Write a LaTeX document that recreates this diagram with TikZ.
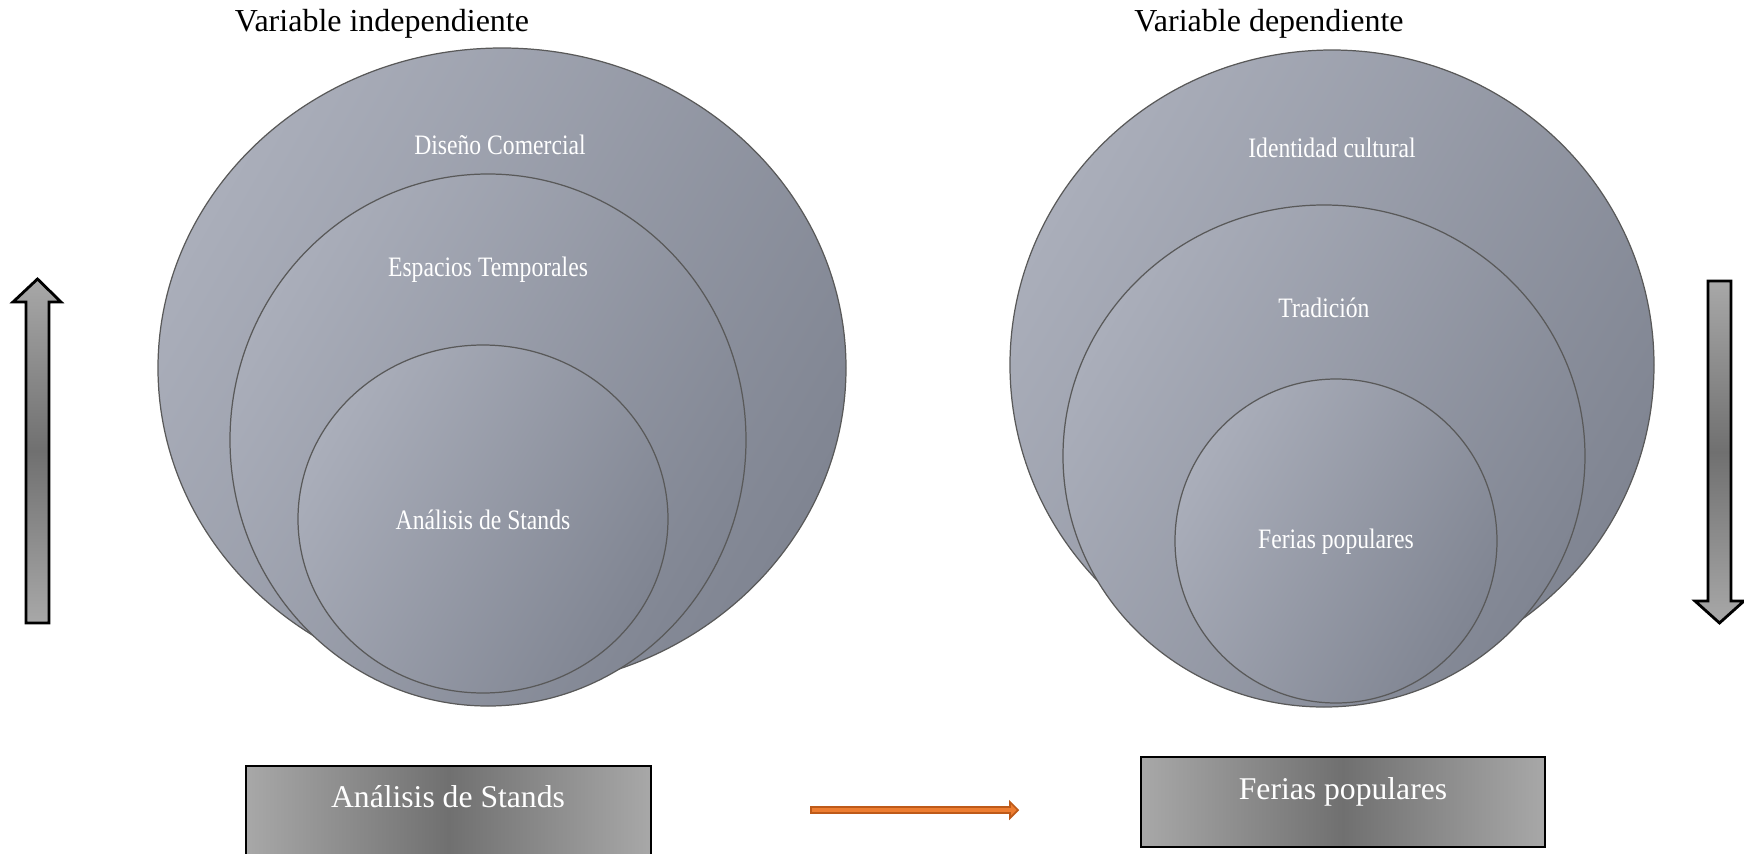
\documentclass[tikz,border=0pt]{standalone}
\usepackage{fontspec}
\setmainfont{Liberation Serif}
\usepackage{graphicx}

\definecolor{circClaro}{RGB}{170,174,186}
\definecolor{circOscuro}{RGB}{128,133,146}
\definecolor{flechaClara}{RGB}{168,168,168}
\definecolor{flechaOscura}{RGB}{112,112,112}
\definecolor{naranja}{RGB}{237,125,49}
\definecolor{naranjaBorde}{RGB}{190,90,25}

\newcommand{\etiq}[1]{\scalebox{0.84}[1]{#1}}

\begin{document}
\begin{tikzpicture}[x=0.01cm, y=-0.01cm,
	circulo/.style={draw=black!65, line width=0.35pt, top color=circClaro, bottom color=circOscuro, shading angle=60},
	etiqueta/.style={text=white, font=\fontsize{8}{9.6}\selectfont},
	titulo/.style={font=\fontsize{9.1}{11}\selectfont},
	caja/.style={draw=black, line width=0.8pt, left color=flechaClara, right color=flechaClara, middle color=flechaOscura},
	flecha/.style={draw=black, line width=0.8pt, top color=flechaClara, bottom color=flechaClara, middle color=flechaOscura}]

	\useasboundingbox (0,0) rectangle (1744,854);
	\clip (0,0) rectangle (1744,854);

	% Titles
	\node[titulo] (indep) at (382,24) {Variable independiente};
	\node[titulo] (dep) at (1269,24) {Variable dependiente};

	% Draw the left circles
	\shadedraw[circulo] (502,368) ellipse [x radius=344, y radius=320];
	\shadedraw[circulo] (488,440) ellipse [x radius=258, y radius=266];
	\shadedraw[circulo] (483,519) ellipse [x radius=185, y radius=174];

	\node[etiqueta] (disenio) at (500,145) {\etiq{Diseño Comercial}};
	\node[etiqueta] (espacios) at (488,270) {\etiq{Espacios Temporales}};
	\node[etiqueta] (analisis) at (483,520) {\etiq{Análisis de Stands}};

	% Draw the right circles
	\shadedraw[circulo] (1332,365) ellipse [x radius=322, y radius=315];
	\shadedraw[circulo] (1324,456) ellipse [x radius=261, y radius=251];
	\shadedraw[circulo] (1336,541) ellipse [x radius=161, y radius=162];

	\node[etiqueta] (identidad) at (1332,148) {\etiq{Identidad cultural}};
	\node[etiqueta] (tradicion) at (1324,308) {\etiq{Tradición}};
	\node[etiqueta] (ferias) at (1336,542) {\etiq{Ferias populares}};

	% Draw the side arrows
	\shadedraw[flecha] (26,623) -- (26,302) -- (13,302) -- (37.5,279) -- (61,302) -- (49,302) -- (49,623) -- cycle;
	\shadedraw[flecha] (1708,281) -- (1708,601) -- (1695,601) -- (1719.5,623) -- (1744,601) -- (1731,601) -- (1731,281) -- cycle;

	% Draw the boxes at the bottom
	\shadedraw[caja] (246,766) rectangle (651,880);
	\node[text=white, font=\fontsize{9}{11}\selectfont] (cajaIzq) at (448,797) {Análisis de Stands};

	\shadedraw[caja] (1141,757) rectangle (1545,847);
	\node[text=white, font=\fontsize{9}{11}\selectfont] (cajaDer) at (1343,792) {Ferias populares};

	% Orange arrow between the boxes
	\draw[fill=naranja, draw=naranjaBorde, line width=0.5pt] (811,807) -- (1010,807) -- (1010,802) -- (1018,810) -- (1010,818) -- (1010,813) -- (811,813) -- cycle;

\end{tikzpicture}
\end{document}
